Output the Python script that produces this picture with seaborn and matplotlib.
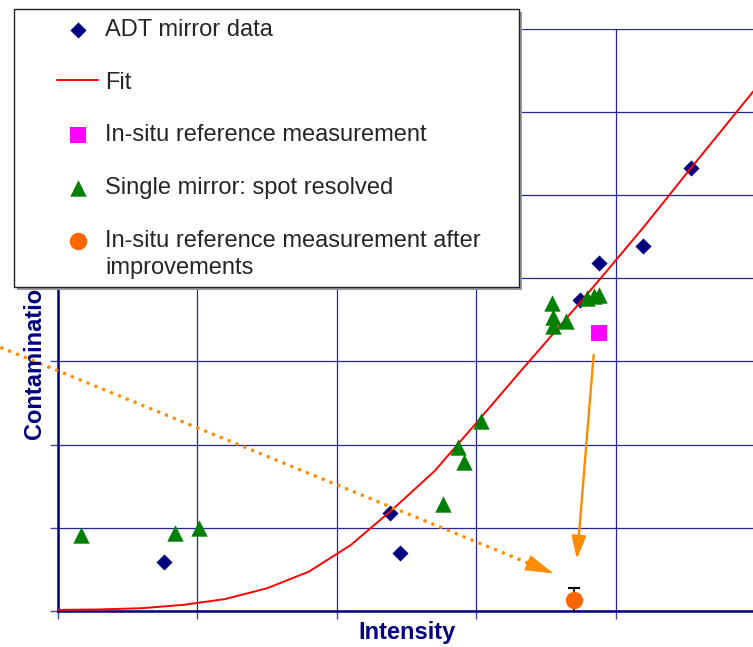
import numpy as np
import pandas as pd
import matplotlib
matplotlib.use("Agg")
import matplotlib.pyplot as plt
from matplotlib.patches import Rectangle
from matplotlib.lines import Line2D
from matplotlib.legend_handler import HandlerLine2D
import seaborn as sns

# ---------------- data (arbitrary units) ----------------
adt_x = [0.76, 2.38, 2.45, 3.74, 3.88, 4.19, 4.54]
adt_y = [0.59, 1.18, 0.69, 3.74, 4.18, 4.39, 5.33]

single_x = [0.17, 0.84, 1.01, 2.76, 2.87, 2.91, 3.03, 3.54, 3.55, 3.55, 3.64, 3.79, 3.84, 3.88]
single_y = [0.91, 0.93, 0.99, 1.28, 1.97, 1.79, 2.28, 3.70, 3.54, 3.43, 3.49, 3.76, 3.79, 3.80]

fit_x = [0.0, 0.3, 0.6, 0.9, 1.2, 1.5, 1.8, 2.1, 2.4, 2.7, 3.0, 3.3, 3.6, 3.9, 4.2, 4.5, 4.8, 5.1]
fit_y = [0.01, 0.015, 0.03, 0.07, 0.14, 0.27, 0.47, 0.79, 1.22, 1.68, 2.26, 2.85, 3.43, 4.02, 4.62, 5.25, 5.87, 6.49]

ref_x = [3.88]
ref_y = [3.34]

after_x = [3.70]
after_y = [0.13]
after_err = [0.14]

# annotation arrows (start, tip) in data units
dotted_arrow = [(-0.41, 3.17), (3.55, 0.45)]
solid_arrow = [(3.84, 3.08), (3.72, 0.62)]

labels = ["ADT mirror data", "Fit", "In-situ reference measurement",
          "Single mirror: spot resolved",
          "In-situ reference measurement after\nimprovements"]

NAVY = "#000080"
ORANGE_ARROW = "#FF8C00"
ORANGE_DOT = "#FF6600"

# ---------------- figure ----------------
sns.set_theme(style="white")
plt.rcParams["font.family"] = ["Liberation Sans", "DejaVu Sans"]

W, H = 753, 647
fig = plt.figure(figsize=(W / 100, H / 100), dpi=100)
ax = fig.add_axes([57.6 / W, (H - 610.7) / H, (755.6 - 57.6) / W, (610.7 - 29.0) / H])

df_adt = pd.DataFrame({"x": adt_x, "y": adt_y})
df_single = pd.DataFrame({"x": single_x, "y": single_y})
df_fit = pd.DataFrame({"x": fit_x, "y": fit_y})
df_ref = pd.DataFrame({"x": ref_x, "y": ref_y})
df_after = pd.DataFrame({"x": after_x, "y": after_y})

sns.lineplot(data=df_fit, x="x", y="y", ax=ax, color="#FF0000", lw=1.4,
             label=labels[1], zorder=3, sort=True)
sns.scatterplot(data=df_adt, x="x", y="y", ax=ax, marker="D", s=8.2 ** 2,
                color=NAVY, linewidth=0, label=labels[0], zorder=2)
sns.scatterplot(data=df_single, x="x", y="y", ax=ax, marker="^", s=11.8 ** 2,
                color="#008000", linewidth=0, label=labels[3], zorder=4)
sns.scatterplot(data=df_ref, x="x", y="y", ax=ax, marker="s", s=11.8 ** 2,
                color="#FF00FF", linewidth=0, label=labels[2], zorder=4)
ax.errorbar(after_x, after_y, yerr=after_err, fmt="none", ecolor="black",
            elinewidth=1.2, capsize=4.5, capthick=1.5, zorder=4)
sns.scatterplot(data=df_after, x="x", y="y", ax=ax, marker="o", s=12.5 ** 2,
                color=ORANGE_DOT, linewidth=0, label=labels[4], zorder=5)

# arrows
(dx0, dy0), (dx1, dy1) = dotted_arrow
frac = 0.0436
bx, by = dx1 + (dx0 - dx1) * frac, dy1 + (dy0 - dy1) * frac
ax.plot([dx0, bx], [dy0, by], ls=":", color=ORANGE_ARROW, lw=2.3,
        clip_on=False, zorder=6)
ax.annotate("", xy=(dx1, dy1), xytext=(bx, by),
            arrowprops=dict(arrowstyle="-|>,head_length=0.95,head_width=0.28",
                            color=ORANGE_ARROW, lw=0.5, shrinkA=0, shrinkB=0,
                            mutation_scale=20),
            annotation_clip=False, zorder=6)
(sx0, sy0), (sx1, sy1) = solid_arrow
ax.annotate("", xy=(sx1, sy1), xytext=(sx0, sy0),
            arrowprops=dict(arrowstyle="-|>,head_length=0.7,head_width=0.22",
                            color=ORANGE_ARROW, lw=1.7, shrinkA=0, shrinkB=0,
                            mutation_scale=20),
            annotation_clip=False, zorder=6)

# axes styling
ax.set_xlim(0, 5)
ax.set_ylim(0, 7)
ax.set_xticks(range(0, 6))
ax.set_yticks(range(0, 8))
ax.grid(True, color=NAVY, lw=0.9, alpha=0.85)
ax.tick_params(axis="both", which="both", direction="out", length=6, width=1.0,
               color="#4a4a9a", left=True, bottom=True,
               labelleft=False, labelbottom=False)
for side in ["top", "right"]:
    ax.spines[side].set_visible(False)
for side in ["left", "bottom"]:
    ax.spines[side].set_color(NAVY)
    ax.spines[side].set_linewidth(1.8)
ax.set_xlabel("")
ax.set_ylabel("")

handles, labs = ax.get_legend_handles_labels()
if ax.get_legend() is not None:
    ax.get_legend().remove()
hmap = dict(zip(labs, handles))

# legend proxy for the two-line entry: marker aligned with the first text line
class FirstLineHandler(HandlerLine2D):
    def create_artists(self, legend, orig_handle, xdescent, ydescent,
                       width, height, fontsize, trans):
        arts = super().create_artists(legend, orig_handle, xdescent, ydescent,
                                      width, height, fontsize, trans)
        shift = 10.0
        for a in arts:
            a.set_ydata(np.asarray(a.get_ydata(), float) + shift)
        return arts

after_proxy = Line2D([], [], ls="none", marker="o", markersize=12.5,
                     markerfacecolor=ORANGE_DOT, markeredgewidth=0)
hmap[labels[4]] = after_proxy

# axis titles
fig.text(407 / W, 1 - 633 / H, "Intensity", ha="center", va="center",
         fontsize=17, fontweight="bold", color=NAVY)
fig.text(35 / W, 1 - 356 / H, "Contamination", ha="center", va="center",
         rotation=90, fontsize=17, fontweight="bold", color=NAVY, zorder=1)

# legend frame + legend
shadow = Rectangle((17 / W, 1 - 290 / H), (519 - 14) / W, (287 - 9) / H,
                   transform=fig.transFigure, facecolor="#9a9a9a",
                   edgecolor="none", zorder=2.9)
frame = Rectangle((14 / W, 1 - 287 / H), (519 - 14) / W, (287 - 9) / H,
                  transform=fig.transFigure, facecolor="white",
                  edgecolor="#222222", lw=1.0, zorder=3)
fig.add_artist(shadow)
fig.add_artist(frame)

leg = fig.legend([hmap[l] for l in labels], labels, loc="upper left",
                 bbox_to_anchor=(57 / W, 1 - 19 / H), frameon=False,
                 fontsize=17, handlelength=1.74, handletextpad=0.3,
                 labelspacing=1.3, borderpad=0, borderaxespad=0,
                 scatterpoints=1, numpoints=1,
                 handler_map={after_proxy: FirstLineHandler(numpoints=1)})
for t in leg.get_texts():
    t.set_linespacing(1.3)
leg.set_zorder(5)

fig.savefig("out.png", dpi=100)
